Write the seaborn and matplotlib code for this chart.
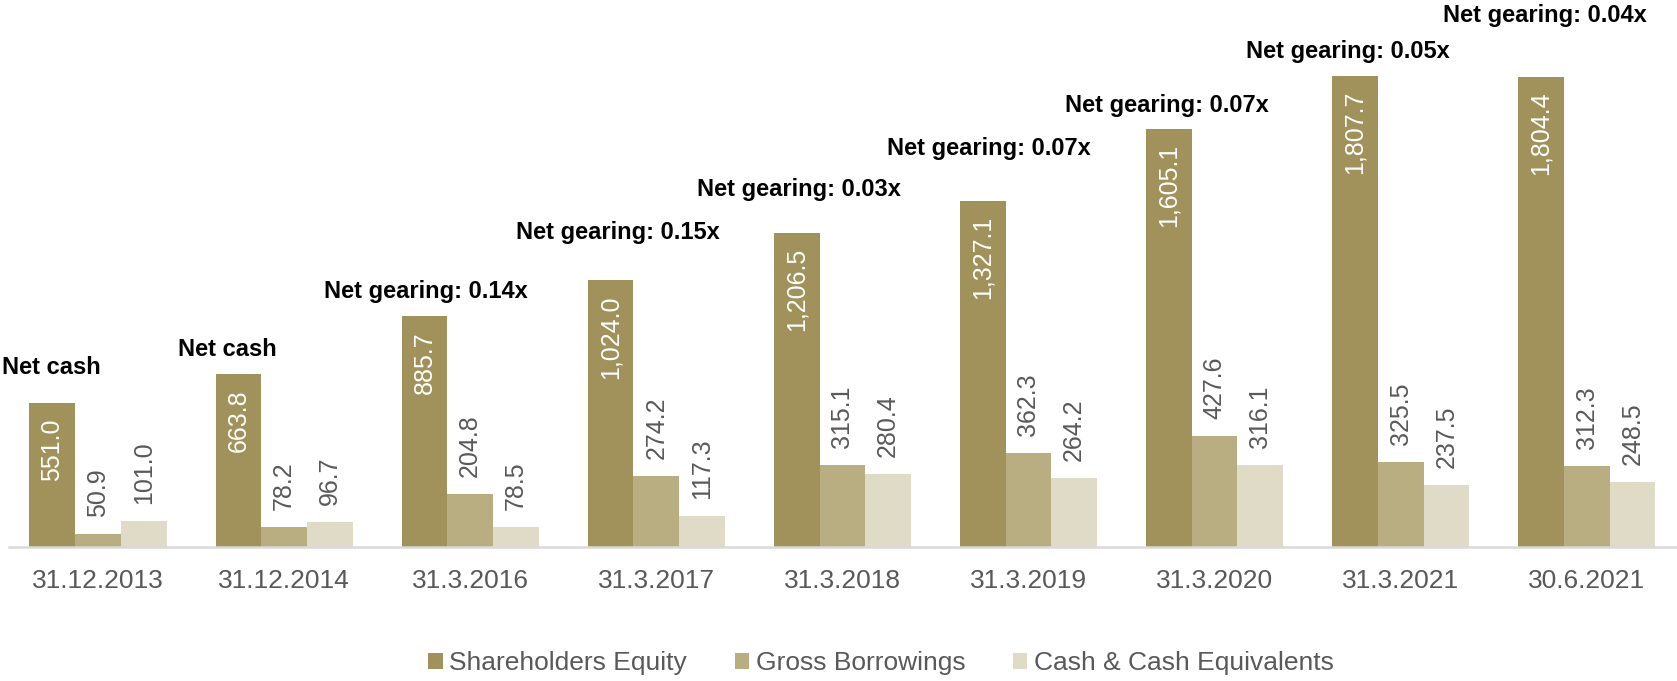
import matplotlib
matplotlib.use("Agg")
import matplotlib.pyplot as plt
import seaborn as sns
import pandas as pd

# ---- data ----
dates = ["31.12.2013", "31.12.2014", "31.3.2016", "31.3.2017", "31.3.2018",
         "31.3.2019", "31.3.2020", "31.3.2021", "30.6.2021"]
series_names = ["Shareholders Equity", "Gross Borrowings", "Cash & Cash Equivalents"]
equity = [551.0, 663.8, 885.7, 1024.0, 1206.5, 1327.1, 1605.1, 1807.7, 1804.4]
borrowings = [50.9, 78.2, 204.8, 274.2, 315.1, 362.3, 427.6, 325.5, 312.3]
cash = [101.0, 96.7, 78.5, 117.3, 280.4, 264.2, 316.1, 237.5, 248.5]
annotations = ["Net cash", "Net cash", "Net gearing: 0.14x", "Net gearing: 0.15x",
               "Net gearing: 0.03x", "Net gearing: 0.07x", "Net gearing: 0.07x",
               "Net gearing: 0.05x", "Net gearing: 0.04x"]

# ---- layout (pixel offsets of annotations relative to equity bar top-centre) ----
ann_offsets = [(-1, 29), (-11, 18), (1, 18), (7, 41), (2, 37), (6, 46), (-2, 17), (-7, 18), (4, 55)]

colors = ["#A0925A", "#B8AE82", "#E0DBC7"]
grey = "#595959"

sns.set_theme(style="white")
plt.rcParams["font.family"] = ["Liberation Sans", "DejaVu Sans"]

df = pd.DataFrame({
    "date": dates * 3,
    "series": [series_names[0]] * 9 + [series_names[1]] * 9 + [series_names[2]] * 9,
    "value": equity + borrowings + cash,
})

fig = plt.figure(figsize=(16.77, 6.81), dpi=100)
ax = fig.add_axes([0, 134 / 681, 1, 547 / 681])

sns.barplot(data=df, x="date", y="value", hue="series", order=dates,
            hue_order=series_names, palette=colors, saturation=1,
            width=0.737, dodge=True, linewidth=0, ax=ax, legend=True)

ax.set_xlim(-0.5266, 8.485)
ax.set_ylim(0, 2099)
ax.set_xlabel("")
ax.set_ylabel("")
ax.set_yticks([])
for s in ["top", "left", "right"]:
    ax.spines[s].set_visible(False)
ax.spines["bottom"].set_color("#D9D9D9")
ax.spines["bottom"].set_linewidth(1.8)
ax.spines["bottom"].set_bounds(-0.48, 8.485)
ax.tick_params(axis="x", length=0, pad=16, labelsize=19, labelcolor=grey)

# value labels
for ci, cont in enumerate(ax.containers):
    for p in cont.patches:
        h = p.get_height()
        xc = p.get_x() + p.get_width() / 2
        txt = f"{h:,.1f}"
        if ci == 0:
            ax.annotate(txt, (xc, h), xytext=(0, -15), textcoords="offset pixels",
                        rotation=90, ha="center", va="top", color="white", fontsize=18)
        else:
            ax.annotate(txt, (xc, h), xytext=(0, 17), textcoords="offset pixels",
                        rotation=90, ha="center", va="bottom", color=grey, fontsize=18)

# net gearing annotations
for p, txt, (dx, dy) in zip(ax.containers[0].patches, annotations, ann_offsets):
    xc = p.get_x() + p.get_width() / 2
    ax.annotate(txt, (xc, p.get_height()), xytext=(dx, dy), textcoords="offset pixels",
                ha="center", va="baseline", fontsize=17, fontweight="bold",
                color="black", annotation_clip=False)

# legend
handles, labels = ax.get_legend_handles_labels()
if ax.get_legend() is not None:
    ax.get_legend().remove()
leg = fig.legend(handles, labels, loc="center", bbox_to_anchor=(881 / 1677, 1 - 663 / 681),
                 ncol=3, frameon=False, fontsize=19, handlelength=0.55, handleheight=0.55,
                 handletextpad=0.25, columnspacing=1.8, borderaxespad=0)
for t in leg.get_texts():
    t.set_color(grey)

fig.savefig("out.png", dpi=100)
